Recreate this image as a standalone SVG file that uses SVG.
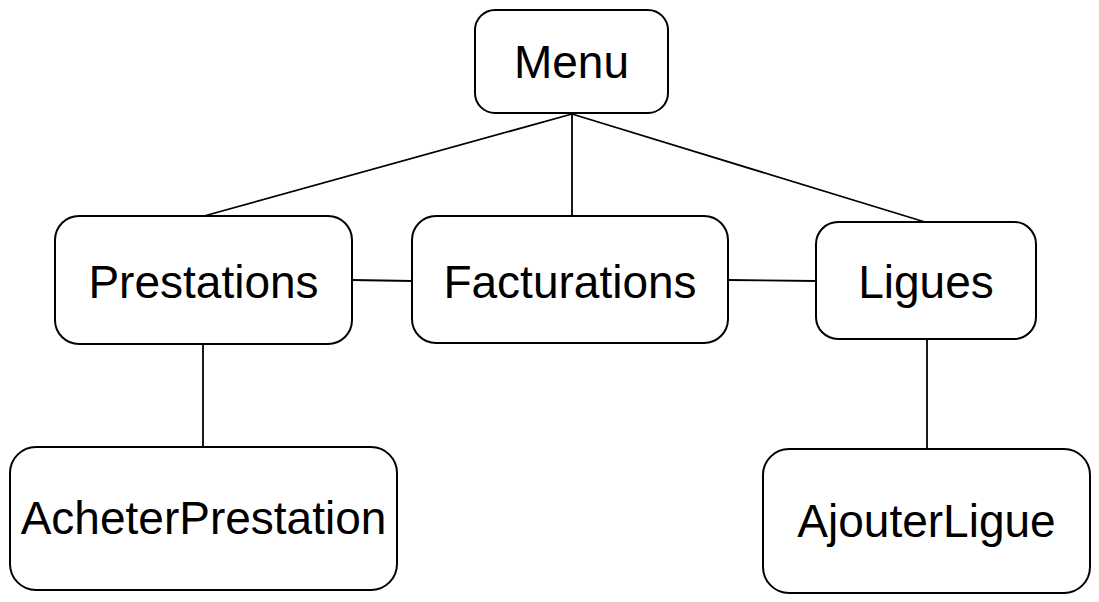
<svg xmlns="http://www.w3.org/2000/svg" width="1099" height="602" viewBox="0 0 1099 602">
<style>
.box{fill:#fff;stroke:#000;stroke-width:2}
.lbl{font-family:"Liberation Sans",Arial,sans-serif;font-size:46px;fill:#000;text-anchor:middle}
.edge{stroke:#000;stroke-width:1.8;fill:none}
</style>
<rect width="1099" height="602" fill="#fff"/>
<g id="connectors">
<line class="edge" x1="572" y1="114" x2="204" y2="216"/>
<line class="edge" x1="572" y1="114" x2="572" y2="216"/>
<line class="edge" x1="572" y1="114" x2="925" y2="222"/>
<line class="edge" x1="352" y1="280" x2="412" y2="281"/>
<line class="edge" x1="728" y1="280" x2="816" y2="281"/>
<line class="edge" x1="203" y1="344" x2="203" y2="447"/>
<line class="edge" x1="927" y1="339" x2="927" y2="449"/>
</g>
<g id="menu">
<rect class="box" x="475" y="10" width="193" height="103" rx="20"/>
<text class="lbl" x="571.5" y="78">Menu</text>
</g>
<g id="prestations">
<rect class="box" x="55" y="216" width="297" height="128" rx="24"/>
<text class="lbl" x="203.5" y="298">Prestations</text>
</g>
<g id="facturations">
<rect class="box" x="412" y="216" width="316" height="127" rx="24"/>
<text class="lbl" x="570" y="298">Facturations</text>
</g>
<g id="ligues">
<rect class="box" x="816" y="222" width="220" height="117" rx="22"/>
<text class="lbl" x="926" y="298">Ligues</text>
</g>
<g id="acheterprestation">
<rect class="box" x="10" y="447" width="387" height="143" rx="26"/>
<text class="lbl" x="203.5" y="534">AcheterPrestation</text>
</g>
<g id="ajouterligue">
<rect class="box" x="763" y="449" width="327" height="144" rx="26"/>
<text class="lbl" x="926.5" y="537">AjouterLigue</text>
</g>
</svg>
